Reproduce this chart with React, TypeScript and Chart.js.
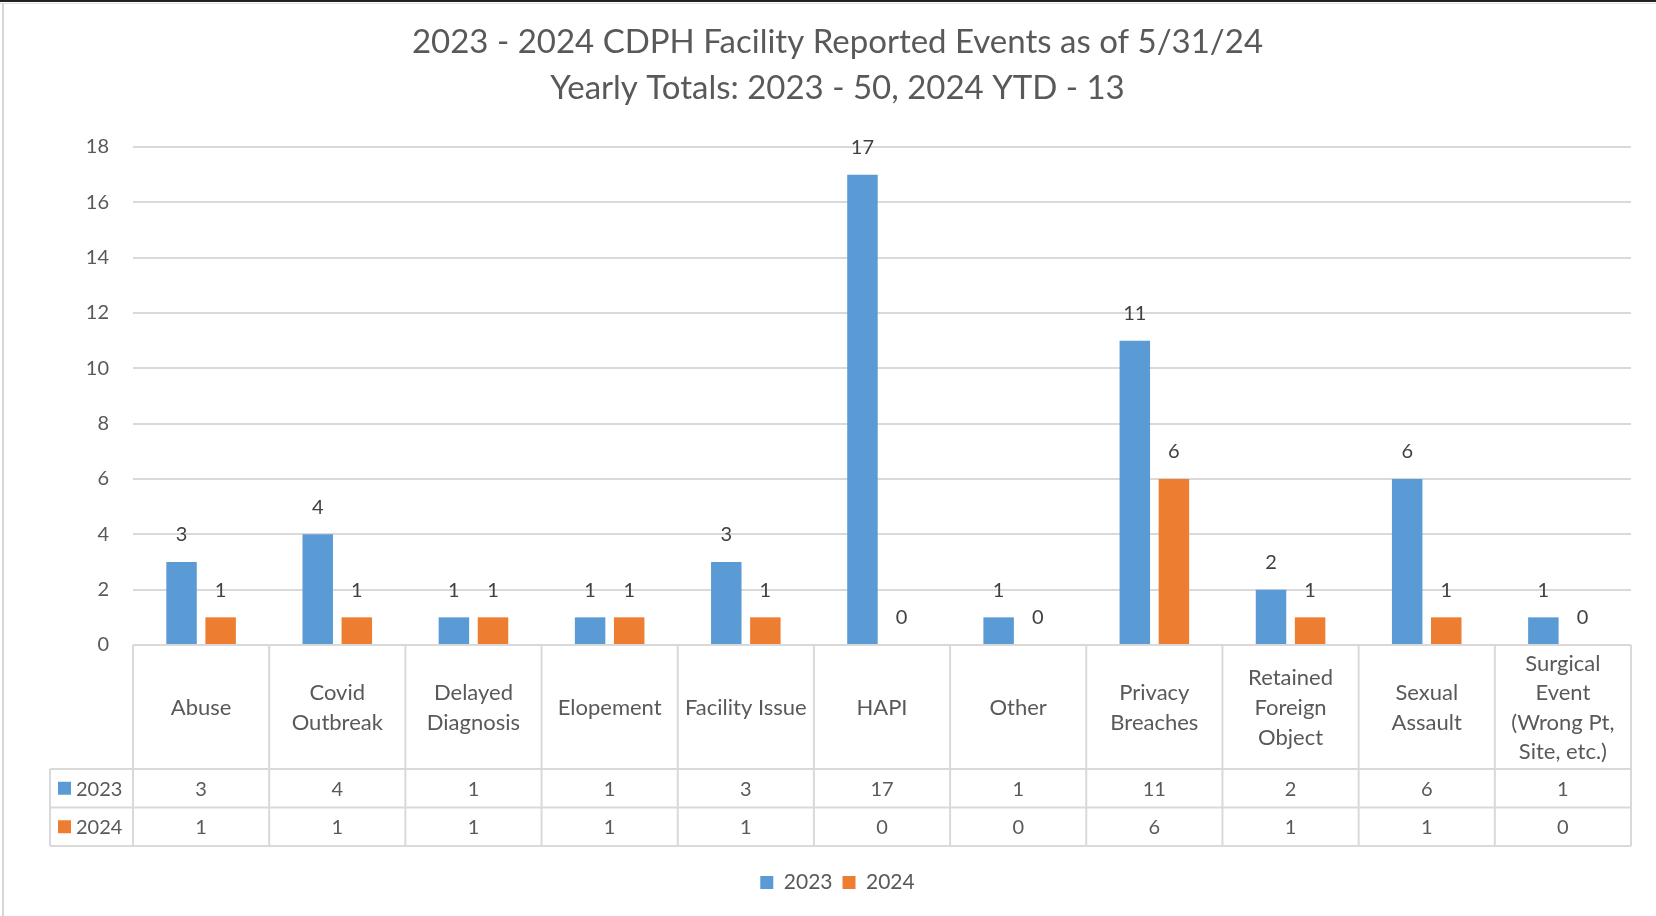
import { useEffect, useRef } from "react";
import { Chart, registerables } from "chart.js";

Chart.register(...registerables);

const titleLines = [
  "2023 - 2024 CDPH Facility Reported Events as of 5/31/24",
  "Yearly Totals: 2023 - 50, 2024 YTD - 13",
];
const categories: (string | string[])[] = [
  "Abuse",
  ["Covid", "Outbreak"],
  ["Delayed", "Diagnosis"],
  "Elopement",
  "Facility Issue",
  "HAPI",
  "Other",
  ["Privacy", "Breaches"],
  ["Retained", "Foreign", "Object"],
  ["Sexual", "Assault"],
  ["Surgical", "Event", "(Wrong Pt,", "Site, etc.)"],
];
const seriesNames = ["2023", "2024"];
const values2023 = [3, 4, 1, 1, 3, 17, 1, 11, 2, 6, 1];
const values2024 = [1, 1, 1, 1, 1, 0, 0, 6, 1, 1, 0];
const yMin = 0;
const yMax = 18;
const yStep = 2;

const COLORS = ["#5B9BD5", "#ED7D31"];
const TEXT = "#595959";
const GRID = "#D9D9D9";
const FONT = "Lato, 'Open Sans', sans-serif";

const frameBg = {
  id: "frameBg",
  beforeDraw(chart: any) {
    const { ctx, width, height } = chart;
    ctx.save();
    ctx.fillStyle = "#ffffff";
    ctx.fillRect(0, 0, width, height);
    ctx.fillStyle = "#222222";
    ctx.fillRect(0, 0, width, 2);
    ctx.fillStyle = "#E2E2E2";
    ctx.fillRect(0, 3, width, 1);
    ctx.fillStyle = "#D6D6D6";
    ctx.fillRect(2, 3, 2, height);
    ctx.restore();
  },
};

const barLabels = {
  id: "barLabels",
  afterDatasetsDraw(chart: any) {
    const { ctx } = chart;
    ctx.save();
    ctx.font = `20px ${FONT}`;
    ctx.fillStyle = "#404040";
    ctx.textAlign = "center";
    ctx.textBaseline = "middle";
    chart.data.datasets.forEach((ds: any, di: number) => {
      const meta = chart.getDatasetMeta(di);
      meta.data.forEach((el: any, i: number) => {
        ctx.fillText(String(ds.data[i]), el.x, el.y - 27);
      });
    });
    ctx.restore();
  },
};

const dataTable = {
  id: "dataTable",
  afterDraw(chart: any) {
    const { ctx } = chart;
    const xs = chart.scales.x;
    const n = chart.data.labels.length;
    const cw = (xs.right - xs.left) / n;
    const top = chart.chartArea.bottom;
    const headerBottom = top + 124;
    const rowH = 38.5;
    const rows = chart.data.datasets;
    const tableBottom = headerBottom + rowH * rows.length;
    const labelLeft = 50;
    ctx.save();
    ctx.strokeStyle = GRID;
    ctx.lineWidth = 2;
    ctx.beginPath();
    ctx.moveTo(xs.left, top);
    ctx.lineTo(xs.right, top);
    for (let r = 0; r <= rows.length; r++) {
      const y = headerBottom + r * rowH;
      ctx.moveTo(labelLeft, y);
      ctx.lineTo(xs.right, y);
    }
    for (let i = 0; i <= n; i++) {
      const x = xs.left + i * cw;
      ctx.moveTo(x, top);
      ctx.lineTo(x, tableBottom);
    }
    ctx.moveTo(labelLeft, headerBottom);
    ctx.lineTo(labelLeft, tableBottom);
    ctx.stroke();

    ctx.font = `20px ${FONT}`;
    ctx.fillStyle = TEXT;
    ctx.textBaseline = "middle";
    rows.forEach((ds: any, r: number) => {
      const cy = headerBottom + r * rowH + rowH / 2;
      ctx.fillStyle = ds.backgroundColor;
      ctx.fillRect(labelLeft + 8, cy - 6.5, 13, 13);
      ctx.fillStyle = TEXT;
      ctx.textAlign = "left";
      ctx.fillText(ds.label, labelLeft + 26, cy + 1);
      ctx.textAlign = "center";
      ds.data.forEach((v: number, i: number) => {
        ctx.fillText(String(v), xs.getPixelForValue(i), cy + 1);
      });
    });
    ctx.restore();
  },
};

export default function App() {
  const ref = useRef<HTMLCanvasElement | null>(null);
  useEffect(() => {
    document.body.style.margin = "0";
    const canvas = ref.current;
    if (!canvas) return;
    const chart = new Chart(canvas, {
      type: "bar",
      data: {
        labels: categories,
        datasets: [
          {
            label: seriesNames[0],
            data: values2023,
            backgroundColor: COLORS[0],
            categoryPercentage: 0.574,
            barPercentage: 0.78,
          },
          {
            label: seriesNames[1],
            data: values2024,
            backgroundColor: COLORS[1],
            categoryPercentage: 0.574,
            barPercentage: 0.78,
          },
        ],
      },
      options: {
        animation: false,
        responsive: false,
        devicePixelRatio: 1,
        layout: { padding: { left: 44, right: 25, top: 0, bottom: 13 } },
        plugins: {
          title: {
            display: true,
            text: titleLines,
            color: TEXT,
            font: { family: FONT, size: 33, weight: "normal", lineHeight: 46 / 33 },
            padding: { top: 19, bottom: 36 },
          },
          legend: {
            position: "bottom",
            labels: {
              color: TEXT,
              font: { family: FONT, size: 21 },
              boxWidth: 13,
              boxHeight: 13,
              padding: 10,
            },
          },
          tooltip: { enabled: false },
        },
        scales: {
          y: {
            min: yMin,
            max: yMax,
            ticks: {
              stepSize: yStep,
              color: TEXT,
              font: { family: FONT, size: 20 },
              padding: 24,
            },
            grid: { color: GRID, lineWidth: 2, drawTicks: false },
            border: { display: false },
            afterFit: (s: any) => {
              s.width = 133 - 44;
            },
          },
          x: {
            ticks: {
              color: TEXT,
              font: { family: FONT, size: 22, lineHeight: 29.6 / 22 },
              padding: 10.5,
              maxRotation: 0,
              minRotation: 0,
              autoSkip: false,
              crossAlign: "center",
            },
            grid: { display: false },
            border: { display: false },
            afterFit: (s: any) => {
              s.height = 217;
            },
          },
        },
      },
      plugins: [frameBg, barLabels, dataTable],
    } as any);
    return () => chart.destroy();
  }, []);
  return <canvas ref={ref} width={1656} height={916} style={{ display: "block" }} />;
}
